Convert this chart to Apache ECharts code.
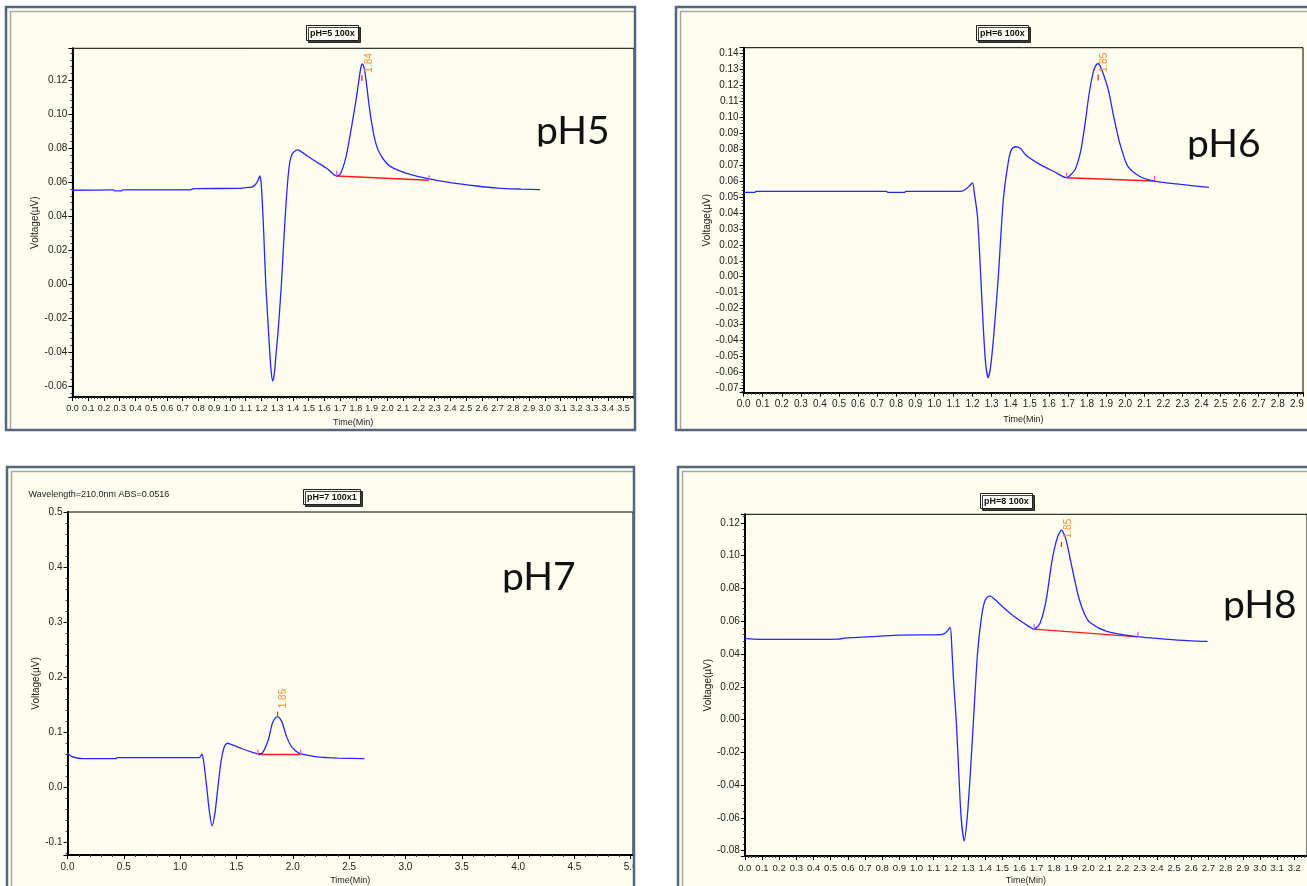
<!DOCTYPE html>
<html><head><meta charset="utf-8">
<script src="https://cdn.jsdelivr.net/npm/echarts@6/dist/echarts.min.js"></script>
<style>html,body{margin:0;padding:0;background:#fff;}#c{width:1307px;height:886px;}</style>
</head><body><div id="c"></div>
<script>
// ---------------- DATA ----------------
const panelNames  = ['pH5', 'pH6', 'pH7', 'pH8'];
const panelTitles = ['pH=5 100x', 'pH=6 100x', 'pH=7 100x1', 'pH=8 100x'];
const infoText    = 'Wavelength=210.0nm ABS=0.0516';
const xAxisName   = 'Time(Min)';
const yAxisName   = 'Voltage(µV)';

const ph5Time = [0.00,0.26,0.27,0.31,0.32,0.75,0.77,1.07,1.10,1.14,1.165,1.18,1.19,1.198,1.205,1.215,1.228,1.246,1.26,1.272,1.283,1.293,1.305,1.316,1.327,1.342,1.358,1.376,1.395,1.428,1.45,1.53,1.615,1.678,1.70,1.72,1.74,1.758,1.776,1.794,1.81,1.822,1.832,1.84,1.85,1.862,1.875,1.885,1.903,1.921,1.94,1.964,1.99,2.016,2.07,2.122,2.25,2.40,2.567,2.70,2.85,2.97];
const ph5Volt = [0.0553,0.0555,0.0549,0.0549,0.0555,0.0556,0.0563,0.0564,0.0569,0.0572,0.0590,0.0615,0.0637,0.0600,0.0496,0.0300,0.0000,-0.0288,-0.0490,-0.0569,-0.0520,-0.0410,-0.0290,-0.0150,0.0000,0.0250,0.0496,0.0690,0.0765,0.0790,0.0782,0.0731,0.0682,0.0637,0.0648,0.0692,0.0760,0.0849,0.0945,0.1045,0.1140,0.1220,0.1275,0.1296,0.1280,0.1220,0.1120,0.1045,0.0935,0.0849,0.0792,0.0751,0.0718,0.0695,0.0670,0.0653,0.0623,0.0598,0.0578,0.0566,0.0560,0.0557];

const ph6Time = [0.00,0.06,0.065,0.75,0.755,0.845,0.85,1.14,1.16,1.18,1.20,1.21,1.226,1.243,1.258,1.27,1.282,1.295,1.312,1.335,1.361,1.389,1.405,1.425,1.45,1.479,1.543,1.629,1.693,1.715,1.736,1.752,1.768,1.79,1.811,1.832,1.845,1.858,1.87,1.886,1.912,1.94,1.972,2.015,2.079,2.154,2.293,2.439];
const ph6Volt = [0.0529,0.0529,0.0535,0.0535,0.0529,0.0529,0.0535,0.0535,0.0545,0.0565,0.0589,0.0520,0.0376,0.0000,-0.0355,-0.0560,-0.0633,-0.0560,-0.0355,0.0000,0.0480,0.0731,0.0800,0.0815,0.0805,0.0763,0.0711,0.0658,0.0621,0.0640,0.0669,0.0720,0.0794,0.0961,0.1149,0.1280,0.1322,0.1337,0.1318,0.1270,0.1170,0.1003,0.0836,0.0690,0.0627,0.0600,0.0579,0.0560];

const ph7Time = [0.00,0.02,0.05,0.13,0.43,0.44,1.17,1.193,1.21,1.236,1.26,1.284,1.31,1.335,1.365,1.393,1.418,1.45,1.55,1.65,1.69,1.727,1.782,1.818,1.845,1.865,1.885,1.909,1.945,1.989,2.055,2.20,2.30,2.40,2.636];
const ph7Volt = [0.0630,0.0580,0.0550,0.0520,0.0520,0.0540,0.0540,0.0600,0.0450,0.0000,-0.0450,-0.0697,-0.0450,0.0000,0.0500,0.0740,0.0800,0.0780,0.0700,0.0630,0.0606,0.0618,0.0860,0.1160,0.1260,0.1285,0.1250,0.1160,0.0920,0.0740,0.0620,0.0558,0.0540,0.0530,0.0520];

const ph8Time = [0.00,0.05,0.23,0.545,0.58,0.77,0.90,1.144,1.17,1.196,1.205,1.215,1.231,1.245,1.26,1.278,1.295,1.312,1.332,1.355,1.379,1.40,1.426,1.46,1.50,1.567,1.63,1.685,1.72,1.755,1.79,1.82,1.844,1.87,1.896,1.943,1.98,2.014,2.108,2.272,2.507,2.695];
const ph8Volt = [0.0495,0.0491,0.0489,0.0491,0.0497,0.0508,0.0516,0.0518,0.0530,0.0562,0.0450,0.0250,0.0000,-0.0300,-0.0600,-0.0741,-0.0600,-0.0350,0.0000,0.0400,0.0630,0.0730,0.0755,0.0730,0.0690,0.0630,0.0585,0.0552,0.0589,0.0730,0.0975,0.1110,0.1157,0.1100,0.0975,0.0751,0.0640,0.0589,0.0538,0.0508,0.0487,0.0477];

const seriesTimes = [ph5Time, ph6Time, ph7Time, ph8Time];
const seriesVolts = [ph5Volt, ph6Volt, ph7Volt, ph8Volt];

// integration baseline (start / end) and peak apex
const baseStartTime = [1.678, 1.693, 1.69, 1.685];
const baseStartVolt = [0.0637, 0.0621, 0.0595, 0.0552];
const baseEndTime   = [2.265, 2.154, 2.07, 2.289];
const baseEndVolt   = [0.0612, 0.0600, 0.0595, 0.0505];
const apexTime      = [1.838, 1.858, 1.865, 1.844];
const apexVolt      = [0.1296, 0.1337, 0.1285, 0.1157];
const peakLabels    = ['1.84', '1.85', '1.85', '1.85'];

// axis ranges
const xMax = [3.566, 2.932, 5.02, 3.274];
const yMin = [-0.0663, -0.0727, -0.123, -0.0833];
const yMax = [0.1388, 0.1436, 0.5, 0.1253];
const yDecimals = [2, 2, 1, 2];

// ---------------- LAYOUT / STYLE ----------------
const SANS = '"Liberation Sans",Arial,sans-serif';
const CREAM = '#FEFEF0';
const layout = [
  {grid:{left:72.4, top:48.3, width:561.6, height:348.7}, frame:[6,7,629,423], title:[306,25], big:[536,146],
   xSplit:36, ySplit:10, xGap:21, yGap:30, showMaxY:false, tick:[11,17], lbl:[7,-1], xFont:9},
  {grid:{left:743.6, top:47.7, width:559.4, height:345}, frame:[676,7,660,423], title:[976,25], big:[1187,159],
   xSplit:29, ySplit:21, xGap:22, yGap:31, showMaxY:false, tick:[11,17], lbl:[6.5,-1], xFont:10},
  {grid:{left:67.5, top:512, width:565.5, height:343}, frame:[7,467,627,440], title:[303,489], big:[502,592],
   xSplit:10, ySplit:6, xGap:21, yGap:25, showMaxY:true, tick:[-5,0], lbl:[6,-18], xFont:10},
  {grid:{left:744.8, top:514.3, width:570, height:342.4}, frame:[678,467,660,440], title:[980,493], big:[1223,620],
   xSplit:33, ySplit:10, xGap:20, yGap:31, showMaxY:false, tick:[12,17], lbl:[6.5,-1.5], xFont:9.5}
];

const chart = echarts.init(document.getElementById('c'), null, {renderer:'canvas'});

const grids = [], xAxes = [], yAxes = [], series = [], titles = [], graphics = [];

layout.forEach((L, i) => {
  grids.push(Object.assign({show:true, borderColor:'#000', borderWidth:1, backgroundColor:'transparent'}, L.grid));
  xAxes.push({
    type:'value', gridIndex:i, min:0, max:xMax[i], splitNumber:L.xSplit,
    name:xAxisName, nameLocation:'middle', nameGap:L.xGap,
    nameTextStyle:{fontFamily:SANS, fontSize:9, color:'#222'},
    axisLine:{show:true, onZero:false, lineStyle:{color:'#000', width:2}},
    axisTick:{show:true, length:4, lineStyle:{color:'#000'}},
    minorTick:{show:true, splitNumber:5, length:2, lineStyle:{color:'#444'}},
    splitLine:{show:false},
    axisLabel:{fontFamily:SANS, fontSize:L.xFont, color:'#222', margin:7, showMinLabel:true, showMaxLabel:false,
      formatter:v => (Math.abs(v) < 1e-9 ? 0 : v).toFixed(1)}
  });
  yAxes.push({
    type:'value', gridIndex:i, min:yMin[i], max:yMax[i], splitNumber:L.ySplit,
    name:yAxisName, nameLocation:'middle', nameGap:L.yGap,
    nameTextStyle:{fontFamily:SANS, fontSize:10, color:'#222'},
    axisLine:{show:true, onZero:false, lineStyle:{color:'#000', width:2}},
    axisTick:{show:true, length:4, lineStyle:{color:'#000'}},
    minorTick:{show:true, splitNumber:5, length:2, lineStyle:{color:'#444'}},
    splitLine:{show:false},
    axisLabel:{fontFamily:SANS, fontSize:10, color:'#222', margin:5, showMinLabel:false, showMaxLabel:L.showMaxY,
      formatter:v => (Math.abs(v) < 1e-9 ? 0 : v).toFixed(yDecimals[i])}
  });
  // chromatogram
  series.push({
    type:'line', xAxisIndex:i, yAxisIndex:i, showSymbol:false, smooth:0.25, z:3,
    data: seriesTimes[i].map((t, k) => [t, seriesVolts[i][k]]),
    lineStyle:{color:'#2626ff', width:1.3}, silent:true
  });
  // integration baseline
  series.push({
    type:'line', xAxisIndex:i, yAxisIndex:i, showSymbol:false, z:2,
    data:[[baseStartTime[i], baseStartVolt[i]], [baseEndTime[i], baseEndVolt[i]]],
    lineStyle:{color:'#ff1a1a', width:1.4}, silent:true
  });
  // peak markers and retention-time label
  series.push({
    type:'custom', xAxisIndex:i, yAxisIndex:i, clip:false, silent:true, z:4,
    data:[[baseStartTime[i], baseStartVolt[i], 0], [baseEndTime[i], baseEndVolt[i], 0],
          [apexTime[i], apexVolt[i], 1], [apexTime[i], apexVolt[i], 2]],
    renderItem:(params, api) => {
      const p = api.coord([api.value(0), api.value(1)]);
      const k = api.value(2);
      if (k === 0) return {type:'line', shape:{x1:p[0], y1:p[1]-5, x2:p[0], y2:p[1]}, style:{stroke:'#ff44ff', lineWidth:1.2}};
      if (k === 1) return {type:'line', shape:{x1:p[0], y1:p[1]+L.tick[0], x2:p[0], y2:p[1]+L.tick[1]}, style:{stroke:'#ff2a2a', lineWidth:1.3}};
      return {type:'text', x:p[0]+L.lbl[0], y:p[1]+L.lbl[1], rotation:Math.PI/2,
        style:{text:peakLabels[i], font:'10px ' + SANS, fill:'#ff8a33', align:'center', verticalAlign:'middle'}};
    }
  });
  titles.push({
    text:panelTitles[i], left:L.title[0], top:L.title[1], padding:[3,4,2,4],
    borderColor:'#222', borderWidth:1, backgroundColor:'#FFFFF8',
    shadowColor:'rgba(0,0,0,0.75)', shadowOffsetX:2, shadowOffsetY:2, shadowBlur:0,
    textStyle:{fontFamily:SANS, fontSize:9, fontWeight:'bold', color:'#111', lineHeight:11}
  });
  const f = L.frame;
  graphics.push({type:'rect', z:-10, shape:{x:f[0], y:f[1], width:f[2], height:f[3]}, style:{fill:CREAM}});
  graphics.push({type:'polyline', z:-9, shape:{points:[[f[0]+4.5, f[1]+f[3]], [f[0]+4.5, f[1]+4.5], [f[0]+f[2], f[1]+4.5]]},
    style:{fill:null, stroke:'#a6a6a6', lineWidth:1.5}});
  // big pH label (baseline-clipped like the source)
  graphics.push({type:'text', z:6, x:L.big[0], y:L.big[1] - 15,
    style:{text:panelNames[i], font:'39px Lato', fill:'#111', align:'left', verticalAlign:'middle'}});
  graphics.push({type:'rect', z:7, shape:{x:L.big[0]-4, y:L.big[1]+0.5, width:84, height:14}, style:{fill:CREAM}});
});

// white gap right of the lower-left panel (clips its last tick label like the source)
graphics.push({type:'rect', z:19, shape:{x:635, y:460, width:42, height:426}, style:{fill:'#ffffff'}});
// panel borders drawn on top
layout.forEach(L => {
  const f = L.frame;
  graphics.push({type:'rect', z:20, shape:{x:f[0], y:f[1], width:f[2], height:f[3]},
    style:{fill:null, stroke:'#56657f', lineWidth:2.5}});
});

graphics.push({type:'text', z:6, x:28.6, y:495,
  style:{text:infoText, font:'9px ' + SANS, fill:'#222', align:'left', verticalAlign:'middle'}});

chart.setOption({
  animation:false,
  backgroundColor:'#ffffff',
  title:titles,
  grid:grids,
  xAxis:xAxes,
  yAxis:yAxes,
  series:series,
  graphic:{elements:graphics}
});
</script>
</body></html>
